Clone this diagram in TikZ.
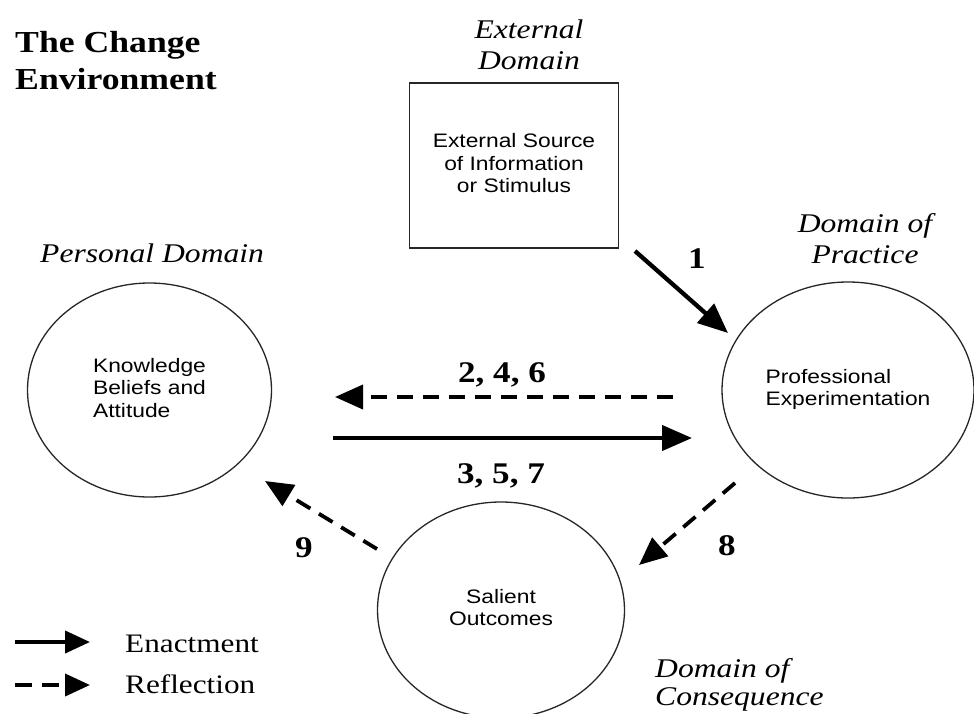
\documentclass[tikz,border=0pt]{standalone}
\usepackage{fontspec}
\setmainfont{Liberation Serif}[FakeStretch=1.17]
\newfontfamily\arialf{Liberation Sans}[FakeStretch=1.17]
\usetikzlibrary{arrows.meta,shapes.geometric}
\begin{document}
\begin{tikzpicture}[x=1pt,y=-1pt,
  domlabel/.style={font=\fontsize{27}{31}\selectfont\itshape, inner sep=0},
  numlabel/.style={font=\fontsize{30}{36}\selectfont\bfseries, inner sep=0, anchor=base},
  insidetext/.style={font=\arialf\fontsize{19.5}{22.5}\selectfont, inner sep=0},
  circ/.style={draw=black!85, line width=1.3pt, ellipse, inner sep=0},
  legtext/.style={font=\fontsize{26.7}{30}\selectfont, inner sep=0, anchor=base west},
  enact/.style={line width=4.3pt, -{Triangle[length=30pt,width=25pt]}},
  reflect/.style={line width=3.8pt, dash pattern=on 16pt off 10pt, -{Triangle[length=28pt,width=24pt]}},
]
\path[use as bounding box, fill=white] (0,0) rectangle (974,713);

% title and domain labels
\node[anchor=base west, inner sep=0, font=\fontsize{30.5}{37}\selectfont\bfseries] (title) at (15,52)
  {\begin{tabular}[t]{@{}l@{}}The Change\\Environment\end{tabular}};
\node[domlabel, anchor=base] (extdom) at (529,38)
  {\begin{tabular}[t]{@{}c@{}}External\\Domain\end{tabular}};
\node[domlabel, anchor=base west] (perdom) at (40,262) {Personal Domain};
\node[domlabel, anchor=base] (pracdom) at (865,232)
  {\begin{tabular}[t]{@{}c@{}}Domain of\\Practice\end{tabular}};
\node[domlabel, font=\fontsize{27}{28}\selectfont\itshape, anchor=base west] (consdom) at (655,677)
  {\begin{tabular}[t]{@{}l@{}}Domain of\\Consequence\end{tabular}};

% main shapes
\node[draw=black!85, line width=1.4pt, minimum width=209pt, minimum height=165pt, insidetext] (src) at (514,165.5)
  {\begin{tabular}{@{}c@{}}External Source\\of Information\\or Stimulus\end{tabular}};
\node[circ, minimum width=244pt, minimum height=214pt, insidetext] (K) at (149.5,390)
  {\begin{tabular}{@{}l@{}}Knowledge\\Beliefs and\\Attitude\end{tabular}};
\node[circ, minimum width=252pt, minimum height=216pt, insidetext] (P) at (848,390)
  {\begin{tabular}{@{}l@{}}Professional\\Experimentation\end{tabular}};
\node[circ, minimum width=247pt, minimum height=216pt, insidetext] (S) at (501,610)
  {\begin{tabular}{@{}c@{}}Salient\\Outcomes\end{tabular}};

% connector end points
\coordinate (a1s) at (635,251);
\coordinate (a1e) at (728,333);
\coordinate (a2s) at (673,397);
\coordinate (a2e) at (335,397);
\coordinate (a3s) at (333,438);
\coordinate (a3e) at (692,438);
\coordinate (a8s) at (735,483);
\coordinate (a8e) at (639,565);
\coordinate (a9s) at (377,549);
\coordinate (a9e) at (265,481);

\draw[enact] (a1s) -- (a1e);
\draw[reflect] (a2s) -- (a2e);
\draw[enact] (a3s) -- (a3e);
\draw[reflect] (a8s) -- (a8e);
\draw[reflect] (a9s) -- (a9e);

% numbers
\node[numlabel] (n1) at (697,268) {1};
\node[numlabel] (n246) at (502,382) {2, 4, 6};
\node[numlabel] (n357) at (501,483) {3, 5, 7};
\node[numlabel] (n8) at (727,555) {8};
\node[numlabel] (n9) at (304,557) {9};

% legend
\coordinate (l1s) at (15,642);
\coordinate (l1e) at (90,642);
\coordinate (l2s) at (15,685);
\coordinate (l2e) at (90,685);
\draw[line width=4pt, -{Triangle[length=25pt,width=22pt]}] (l1s) -- (l1e);
\draw[line width=3.8pt, dash pattern=on 17pt off 10pt, -{Triangle[length=25pt,width=22pt]}] (l2s) -- (l2e);
\node[legtext] (enl) at (125,652) {Enactment};
\node[legtext] (refl) at (125,693) {Reflection};
\end{tikzpicture}
\end{document}
